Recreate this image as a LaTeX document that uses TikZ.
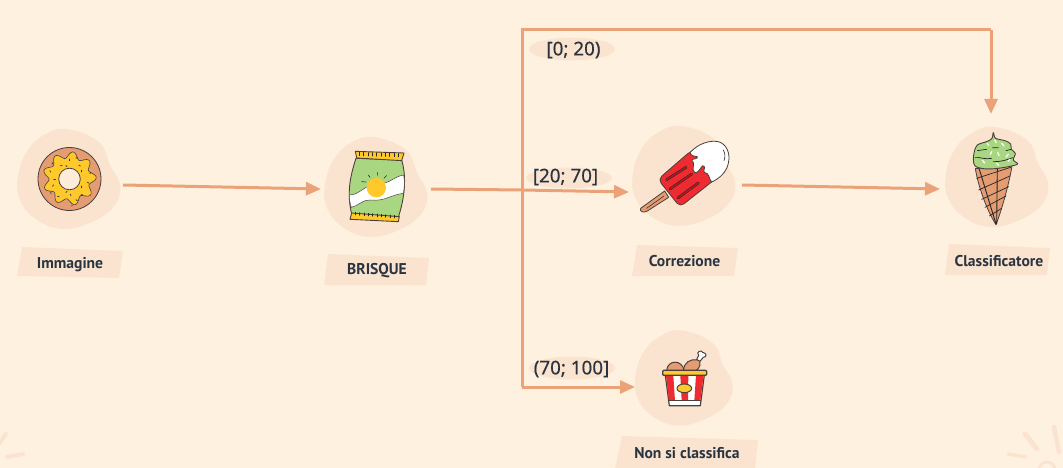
\documentclass[tikz,border=0pt]{standalone}
\usepackage{fontspec}
\setmainfont{PT Sans}
\newfontfamily\numfont[AutoFakeBold=0.4]{Noto Sans}
\usetikzlibrary{arrows.meta,shapes.geometric}
\definecolor{bgc}{HTML}{FFF1E0}
\definecolor{blobc}{HTML}{FAE4D0}
\definecolor{linec}{HTML}{ECA279}
\definecolor{inkc}{HTML}{2A3440}
\definecolor{outl}{HTML}{4A3F3C}
\definecolor{tanc}{HTML}{E49C72}
\definecolor{yel}{HTML}{FFC92B}
\definecolor{grn}{HTML}{A9D781}
\definecolor{redc}{HTML}{EE2B30}
\definecolor{dred}{HTML}{B81620}
\tikzset{
  hub/.style={circle,inner sep=0pt,outer sep=0pt,minimum size=#1},
  conn/.style={draw=linec,line width=3pt},
  arr/.style={conn,-{Triangle[length=15pt,width=13pt]}},
  plate/.style={fill=blobc,draw=none},
  captxt/.style={text=inkc,font=\fontsize{15.6}{17}\selectfont\bfseries,inner sep=0pt},
  rng/.style={text=inkc,font=\numfont\bfseries\fontsize{18.8}{20}\selectfont,inner sep=0pt},
  orn/.style={draw=blobc,line cap=round},
  ink/.style={draw=outl,line width=.8pt,line join=round},
  blk/.style={draw=black!85,line width=.8pt,line cap=round},
  blob/.pic={\fill[blobc] plot[smooth cycle,tension=.7] coordinates {(-2,-50)(30,-37)(41,-14)(51,6)(46,26)(25,42)(-5,50)(-32,41)(-49,21)(-51,-3)(-42,-28)(-25,-44)};},
  zoomed/.style={shift={#1},x=.3333pt,y=-.3333pt}
}
\begin{document}
\begin{tikzpicture}[x=1pt,y=-1pt]
\useasboundingbox (0,0) rectangle (1063,468);
\fill[bgc] (0,0) rectangle (1063,468);
% corner ornaments
\draw[orn,line width=5pt] (1025,434) -- (1037,449);
\draw[orn,line width=4.5pt] (1054,427) -- (1059,452);
\draw[orn,line width=3.5pt] (1008,454) -- (1026,457);
\draw[orn,line width=3pt] (1047,470) circle (8);
\draw[orn,line width=4pt] (6,434) -- (-1,444);
\draw[orn,line width=4pt] (7,457) -- (23,454);
% blobs
\pic at (69,179) {blob};
\pic at (376,187) {blob};
\pic at (684,176) {blob};
\pic at (997,177) {blob};
\pic[scale=.95] at (684,378) {blob};
% plates
\fill[plate] (22,247) -- (123,251) -- (119,278) -- (17,276) -- cycle;
\fill[plate] (328,254) -- (429,258) -- (426,285) -- (324,285) -- cycle;
\fill[plate] (637,245) -- (738,248) -- (734,276) -- (632,276) -- cycle;
\fill[plate] (949,244) -- (1050,248) -- (1047,275) -- (945,275) -- cycle;
\fill[plate] (622,436) -- (758,440) -- (755,468) -- (615,468) -- cycle;
% hubs
\node[hub=108pt] (imm) at (69,180) {};
\node[hub=108pt] (bri) at (376,187) {};
\node[hub=108pt] (cor) at (684,188) {};
\node[hub=108pt] (cla) at (996,189) {};
\node[hub=98pt] (non) at (684,387) {};
\coordinate (split) at (522,190);
\coordinate (upper) at (522,30);
\coordinate (lower) at (522,387);
\coordinate (over) at (991,30);
% range pills
\fill[blobc] (572,49) ellipse (43 and 11.5);
\fill[blobc] (569,178) ellipse (43 and 10.5);
\fill[blobc] (572,368) ellipse (43 and 11.5);
% connectors
\draw[arr] ([yshift=-5pt]imm.east) -- ([xshift=-1pt,yshift=-2pt]bri.west);
\draw[conn] ([xshift=1pt,yshift=-2pt]bri.east) -- (split);
\draw[arr] (split) -- ([xshift=-1pt,yshift=-4pt]cor.west);
\draw[arr] ([xshift=4pt,yshift=3pt]cor.east) -- ([xshift=-2pt]cla.west);
\draw[conn,line join=miter] (split) -- (upper) -- (over);
\draw[arr] (over) -- (991,114);
\draw[conn] (split) -- (lower);
\draw[arr] (lower) -- (non.west);
% range labels
\node[rng] (r1) at (573.5,50) {[0; 20)};
\node[rng] (r2) at (565.5,177) {[20; 70]};
\node[rng] (r3) at (571.5,369) {(70; 100]};
% captions
\node[captxt] (t1) at (70,264.5) {Immagine};
\node[captxt] (t2) at (377,270.5) {BRISQUE};
\node[captxt] (t3) at (684.5,261) {Correzione};
\node[captxt] (t4) at (999,261) {Classificatore};
\node[captxt] (t5) at (687,453) {Non si classifica};
% donut
\begin{scope}
\draw[ink,fill=tanc] (69.5,179) circle (31.5);
\draw[ink,fill=yel,line width=.6pt] plot[domain=0:356,samples=90,smooth cycle] ({69.5+(23.6+3.2*cos(9*\x+20))*cos(\x)},{178.5+(23.6+3.2*cos(9*\x+20))*sin(\x)});
\draw[ink,fill=bgc!60!blobc] (69.5,179) circle (10.8);
\foreach \a/\r in {10/18,50/20,85/17,125/21,160/17,200/20,235/16,270/20,310/17,345/21,30/14,105/14,180/14,255/14,330/14,70/23,145/23,220/23,290/23}
  \draw[black!80,line width=.7pt,line cap=round] ({69.5+\r*cos(\a)},{179+\r*sin(\a)}) -- ++({\a*3}:1.8);
\fill[redc] (72,205.7) circle (.9);
\end{scope}
% chips bag
\begin{scope}[zoomed={(310,120)}]
\draw[ink,fill=grn,line width=.9pt] (138,115) .. controls (120,170) and (110,220) .. (125,282) -- (265,292) .. controls (285,230) and (290,170) .. (275,120) -- cycle;
\draw[ink,fill=white,line width=.5pt] (118,225) .. controls (150,225) and (160,195) .. (205,190) .. controls (235,195) and (250,170) .. (281,165) .. controls (285,185) and (283,205) .. (280,220) .. controls (240,225) and (225,245) .. (180,240) .. controls (160,238) and (140,260) .. (124,262) .. controls (120,250) and (118,240) .. (118,225) -- cycle;
\fill[yel] (199,203) circle (9.7pt);
\draw[blk,line width=.6pt] (168,186) -- (155,185) (180,172) -- (175,165) (203,166) -- (203,157) (222,175) -- (230,167);
\draw[ink,fill=yel,line width=.9pt] (136,94) -- (282,99) -- (275,122) -- (140,114) -- cycle;
\draw[ink,fill=yel,line width=.9pt] (125,279) -- (268,290) -- (265,305) -- (120,298) -- cycle;
\foreach \i in {0,...,9} {
 \draw[blk,line width=.5pt] ({148+\i*13},{97+\i*.4}) -- ++(0,10);
 \draw[blk,line width=.5pt] ({136+\i*13},{285+\i*1}) -- ++(0,-8);
}
\end{scope}
% popsicle
\begin{scope}[zoomed={(510,110)}]
\draw[ink,fill=tanc] (464,243) -- (476,262) -- (412,303) .. controls (400,310) and (388,305) .. (392,295) -- cycle;
\draw[blk,line width=.5pt] (410,295) -- (462,258);
\draw[ink,fill=redc,line width=.8pt,rounded corners=5pt] (444,208) -- (540,125) -- (600,100) -- (650,160) -- (625,200) -- (510,291) -- cycle;
\draw[ink,fill=white,line width=.8pt] (540,128) .. controls (565,100) and (600,90) .. (625,95) .. controls (650,102) and (662,130) .. (655,160) .. controls (650,185) and (630,205) .. (605,216) .. controls (595,205) and (600,190) .. (583,187) .. controls (578,180) and (590,170) .. (578,167) .. controls (570,175) and (565,190) .. (555,188) .. controls (540,180) and (560,160) .. (545,150) .. controls (550,145) and (565,148) .. (562,140) .. controls (555,138) and (545,140) .. (540,128) -- cycle;
\draw[blk,line width=.6pt] (640,120) .. controls (646,130) and (646,142) .. (642,152);
\foreach \a/\b/\c/\d in {470/209/528/172,480/237/545/192,504/264/565/219}{
 \draw[black!85,line width=2.6pt,line cap=round] (\a,\b) -- (\c,\d);
 \draw[dred,line width=1.6pt,line cap=round] (\a,\b) -- (\c,\d);
}
\end{scope}
% ice cream
\begin{scope}[zoomed={(930,110)}]
\draw[ink,fill=tanc] (136,176) -- (246,168) .. controls (235,230) and (215,300) .. (198,344) .. controls (170,300) and (145,230) .. (136,176) -- cycle;
\draw[blk,line width=.9pt] (148,178) -- (198,342) (202,172) -- (200,342);
\draw[blk,line width=.7pt] (140,205) -- (242,172) (146,240) -- (240,198) (155,268) -- (236,230) (165,292) -- (228,258) (178,318) -- (215,295);
\draw[ink,fill=grn,line width=.9pt] plot[smooth cycle,tension=.55] coordinates {(190,68)(197,85)(225,92)(242,102)(244,118)(256,130)(250,150)(263,162)(235,170)(195,176)(160,176)(135,168)(130,148)(133,125)(142,105)(172,94)(186,85)};
\draw[blk,line width=.7pt] (142,122) .. controls (150,118) and (160,122) .. (170,118) (188,113) -- (205,113) (135,143) .. controls (150,140) and (165,150) .. (185,145) (190,155) .. controls (215,155) and (230,150) .. (248,143) (228,122) -- (243,118);
\draw[white,line width=1.3pt,line cap=round] (172,100) -- (176,106) (195,90) -- (198,98) (215,100) -- (222,108) (185,125) -- (181,133) (203,127) -- (207,137) (235,133) -- (228,141) (158,152) -- (164,159) (200,160) -- (206,166) (240,148) -- (234,154);
\end{scope}
% bucket
\begin{scope}[zoomed={(510,320)}]
\draw[ink,fill=tanc,line width=1pt] (470,152) .. controls (472,118) and (518,118) .. (522,152) -- cycle;
\draw[ink,fill=tanc,line width=1pt] (522,152) .. controls (518,128) and (545,115) .. (560,120) -- (568,120) -- (570,128) .. controls (572,140) and (562,152) .. (555,152) -- cycle;
\draw[ink,fill=white,line width=1pt] (560,118) -- (566,106) .. controls (556,96) and (575,88) .. (578,97) .. controls (590,98) and (592,112) .. (580,112) -- (570,124) -- cycle;
\draw[ink,fill=white,line width=1.2pt] (466,165) -- (583,165) -- (571,257) -- (478,257) -- cycle;
\fill[redc] (468,167) -- (490,167) -- (495,242) -- (477,242) -- cycle;
\fill[redc] (511,167) -- (535,167) -- (534,242) -- (515,242) -- cycle;
\fill[redc] (558,167) -- (581,167) -- (571,242) -- (553,242) -- cycle;
\draw[outl,line width=.9pt] (477,242) -- (572,242);
\draw[ink,fill=yel,line width=1.2pt,rounded corners=1pt] (458,151) -- (590,151) -- (590,166) -- (458,166) -- cycle;
\draw[ink,fill=yel,line width=1pt] (523,205) ellipse (22 and 13);
\end{scope}
\end{tikzpicture}
\end{document}
